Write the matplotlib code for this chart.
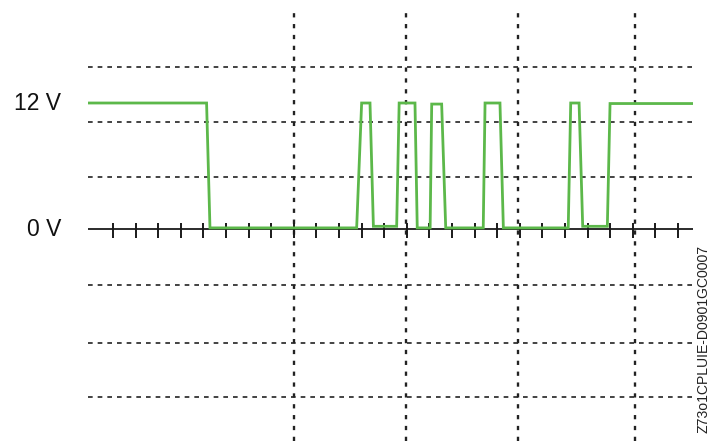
import matplotlib
matplotlib.use("Agg")
import matplotlib.pyplot as plt

# time in minor-tick units, voltage in volts
time = [-1.1, 4.14, 4.29, 10.78, 11.0, 11.37, 11.52, 12.55, 12.66, 13.36, 13.46,
        14.03, 14.1, 14.54, 14.72, 16.38, 16.46, 17.12, 17.27, 20.14, 20.25,
        20.62, 20.78, 21.87, 21.99, 25.66]
volts = [12.0, 12.0, 0.15, 0.15, 12.0, 12.0, 0.3, 0.3, 12.0, 12.0, 0.15,
         0.15, 11.9, 11.9, 0.15, 0.15, 12.0, 12.0, 0.15, 0.15, 12.0,
         12.0, 0.3, 0.3, 11.95, 11.95]

h_grid = [15.45, 10.2, 4.95, -5.27, -10.74, -15.92]
v_grid = [8.0, 12.95, 17.9, 23.1]
minor_ticks = list(range(0, 26))
y_labels = ["12 V", "0 V"]
y_label_vals = [12.0, 0.0]
code_text = "Z73o1CPLUIE-D0901GC0007"

W, H = 710, 441
fig = plt.figure(figsize=(W / 100, H / 100), dpi=100)
ax = fig.add_axes([88 / W, 0, (693 - 88) / W, (441 - 13) / H])
ax.set_xlim(-1.106, 25.66)
ax.set_ylim(-20.07, 20.54)
ax.axis("off")

for y in h_grid:
    ax.axhline(y, color="#222222", lw=1.2, linestyle=(0, (2.8, 3.0)), zorder=1)
for x in v_grid:
    ax.axvline(x, color="#222222", lw=1.7, linestyle=(0, (1.8, 2.8)), zorder=1)

# zero line with ticks
ax.axhline(0, color="#1a1a1a", lw=1.3, zorder=2)
ax.vlines(minor_ticks, -0.81, 0.62, color="#1a1a1a", lw=1.4, zorder=2)

ax.plot(time, volts, color="#5cb84a", lw=2.0, zorder=3, solid_joinstyle="miter")

for lab, v in zip(y_labels, y_label_vals):
    ax.text(-1.106 - 27 / 22.6, v, lab, ha="right", va="center",
            fontsize=16.5, family="Liberation Sans", color="#111111")

fig.text(704 / W, 1 - 245 / H, code_text, rotation=90, ha="center", va="top",
         fontsize=10.1, family="Liberation Sans", color="#222222")

fig.savefig("out.png", dpi=100)
